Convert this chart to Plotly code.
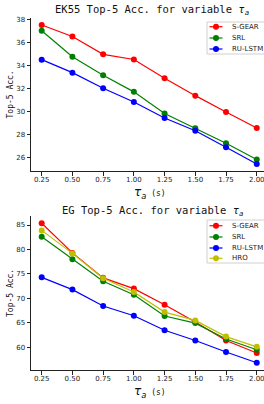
import plotly.graph_objects as go

x_vals = [0.25, 0.50, 0.75, 1.00, 1.25, 1.50, 1.75, 2.00]
x_ticks = [0.25, 0.50, 0.75, 1.00, 1.25, 1.50, 1.75, 2.00]
x_tick_text = ["0.25", "0.50", "0.75", "1.00", "1.25", "1.50", "1.75", "2.00"]

# EK55
ek_sgear = [37.5, 36.5, 34.95, 34.5, 32.87, 31.36, 29.94, 28.55]
ek_srl = [37.0, 34.75, 33.13, 31.69, 29.81, 28.52, 27.22, 25.81]
ek_rulstm = [34.49, 33.36, 32.0, 30.81, 29.42, 28.31, 26.87, 25.42]
ek_yticks = [26, 28, 30, 32, 34, 36, 38]

# EG
eg_sgear = [85.35, 79.3, 74.2, 72.0, 68.7, 65.2, 61.4, 58.85]
eg_srl = [82.6, 78.0, 73.5, 70.75, 66.4, 64.95, 61.7, 59.5]
eg_rulstm = [74.3, 71.8, 68.45, 66.45, 63.5, 61.4, 59.05, 56.85]
eg_hro = [83.9, 79.2, 74.1, 71.3, 67.2, 65.5, 62.2, 60.1]
eg_yticks = [60, 65, 70, 75, 80, 85]

ek_names = ["S-GEAR", "SRL", "RU-LSTM"]
eg_names = ["S-GEAR", "SRL", "RU-LSTM", "HRO"]

C_R = "#ff0000"
C_G = "#008000"
C_B = "#0000ff"
C_Y = "#bfbf00"
ek_colors = [C_R, C_G, C_B]
eg_colors = [C_R, C_G, C_B, C_Y]

fig = go.Figure()

def add(x, y, name, color, xa, ya):
    fig.add_trace(go.Scatter(
        x=x, y=y, name=name, mode="lines+markers",
        line=dict(color=color, width=1.2),
        marker=dict(color=color, size=6, symbol="circle"),
        xaxis=xa, yaxis=ya, showlegend=False, cliponaxis=False,
    ))

for ys, n, c in zip([ek_sgear, ek_srl, ek_rulstm], ek_names, ek_colors):
    add(x_vals, ys, n, c, "x", "y")
for ys, n, c in zip([eg_sgear, eg_srl, eg_rulstm, eg_hro], eg_names, eg_colors):
    add(x_vals, ys, n, c, "x2", "y2")

tick_font = dict(family="DejaVu Sans", size=7, color="#222")
axis_common = dict(
    showline=True, linecolor="#222", linewidth=1, mirror=False,
    ticks="outside", ticklen=3.5, tickwidth=0.8, tickcolor="#222",
    showgrid=False, zeroline=False, tickfont=tick_font,
    ticklabeloverflow="allow",
)

xr = [0.163, 2.059]
top_dom = [1 - 153 / 352, 1.0]
bot_dom = [0.0, 1 - 198 / 352]

fig.update_layout(
    width=264, height=404,
    margin=dict(l=31, r=0, t=18, b=34),
    paper_bgcolor="white", plot_bgcolor="white",
    xaxis=dict(domain=[0, 1], range=xr, tickvals=x_ticks, ticktext=x_tick_text,
               anchor="y", ticklabelstandoff=-2, **axis_common),
    yaxis=dict(domain=top_dom, range=[24.81, 38.11], tickvals=ek_yticks,
               anchor="x", **axis_common),
    xaxis2=dict(domain=[0, 1], range=xr, tickvals=x_ticks, ticktext=x_tick_text,
                anchor="y2", ticklabelstandoff=-2, **axis_common),
    yaxis2=dict(domain=bot_dom, range=[55.37, 86.84], tickvals=eg_yticks,
                anchor="x2", **axis_common),
    showlegend=False,
)

title_font = dict(family="DejaVu Sans Mono", size=10.5, color="#111")
lab_font = dict(family="DejaVu Sans Mono", size=8, color="#111")

def px_y(py):
    return (370 - py) / 352

def px_x(px):
    return (px - 31) / 233

annots = [
    dict(text="EK55 Top-5 Acc. for variable <i>τ<sub>a</sub></i>", x=px_x(152), y=px_y(10),
         font=title_font),
    dict(text="EG Top-5 Acc. for variable <i>τ<sub>a</sub></i>", x=px_x(152), y=px_y(211),
         font=title_font),
    dict(text="<span style='font-family:DejaVu Sans;font-size:12px'><i>τ<sub>a</sub></i></span> (s)",
         x=px_x(150), y=px_y(193), font=lab_font),
    dict(text="<span style='font-family:DejaVu Sans;font-size:12px'><i>τ<sub>a</sub></i></span> (s)",
         x=px_x(150), y=px_y(392), font=lab_font),
    dict(text="Top-5 Acc.", x=px_x(10), y=px_y(94.5), textangle=-90, font=lab_font),
    dict(text="Top-5 Acc.", x=px_x(10), y=px_y(293), textangle=-90, font=lab_font),
]
for a in annots:
    a.update(xref="paper", yref="paper", showarrow=False, xanchor="center", yanchor="middle")
    fig.add_annotation(**a)

# manual legends (matplotlib-like)
def legend(top, bottom, rows, names, colors):
    x0, x1 = 207, 266
    fig.add_shape(type="rect", xref="paper", yref="paper",
                  x0=px_x(x0), x1=px_x(x1), y0=px_y(bottom), y1=px_y(top),
                  line=dict(color="#d0d0d0", width=1), fillcolor="rgba(255,255,255,0.8)",
                  layer="above")
    for ry, n, c in zip(rows, names, colors):
        fig.add_shape(type="line", xref="paper", yref="paper",
                      x0=px_x(209.5), x1=px_x(222.5), y0=px_y(ry), y1=px_y(ry),
                      line=dict(color=c, width=1.2), layer="above")
        fig.add_shape(type="circle", xref="paper", yref="paper",
                      x0=px_x(216 - 3), x1=px_x(216 + 3), y0=px_y(ry + 3), y1=px_y(ry - 3),
                      line=dict(color=c, width=0), fillcolor=c, layer="above")
        fig.add_annotation(text=n, xref="paper", yref="paper", x=px_x(230), y=px_y(ry),
                           xanchor="left", yanchor="middle", showarrow=False,
                           font=dict(family="DejaVu Sans", size=7, color="#222"))

legend(22, 54, [26.7, 38, 49], ek_names, ek_colors)
legend(220, 263, [225.7, 237, 248, 258.3], eg_names, eg_colors)

fig.write_html(
    "out.html",
    config=dict(displayModeBar=False),
    post_script="document.body.style.margin='0';document.body.style.overflow='hidden';"
                "document.documentElement.style.overflow='hidden';",
)
